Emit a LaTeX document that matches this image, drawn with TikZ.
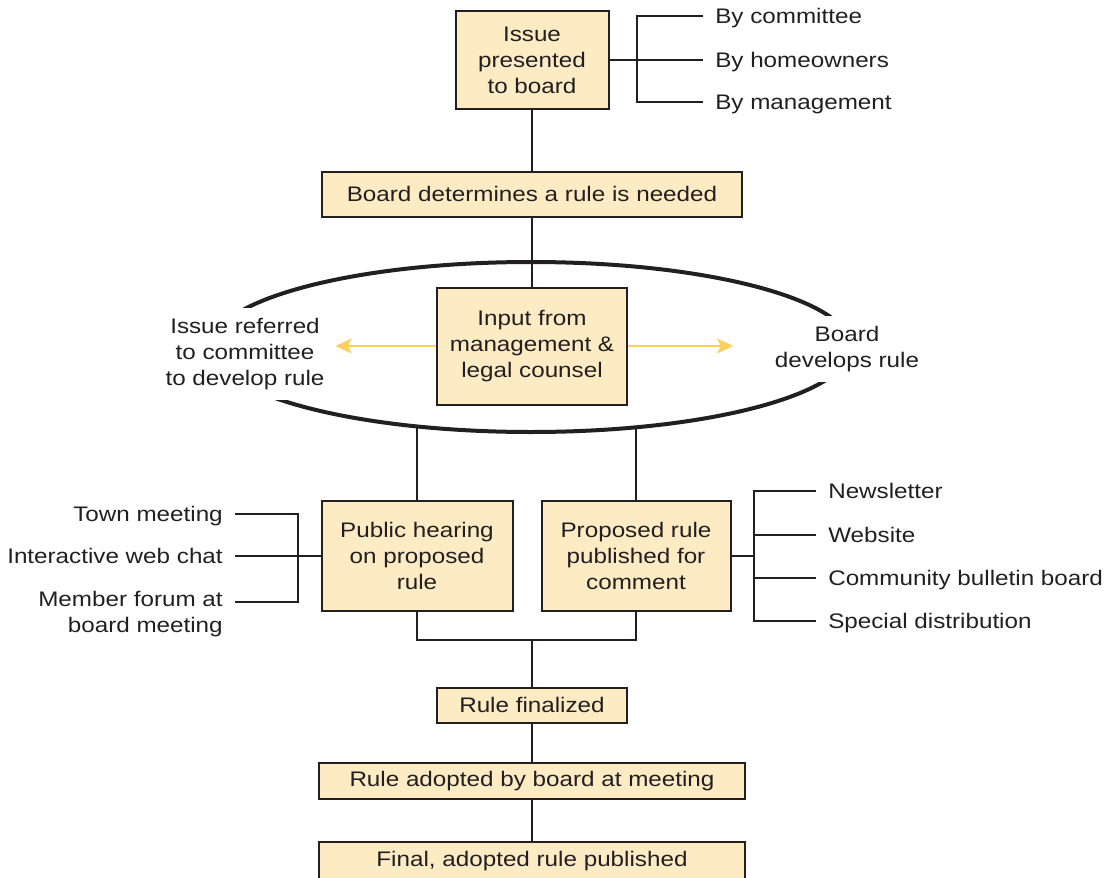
\documentclass[tikz,border=0pt]{standalone}
\usepackage{fontspec}
\setmainfont{Liberation Sans}[FakeStretch=1.15]
\usetikzlibrary{arrows.meta}
\definecolor{boxfill}{HTML}{FDEBC4}
\definecolor{ink}{HTML}{231F20}
\definecolor{gold}{HTML}{FCD05C}
\begin{document}
\begin{tikzpicture}[x=0.75pt, y=-0.75pt, every node/.style = {font=\fontsize{15.8}{19.5}\selectfont, text=ink, align=center}]
			\tikzstyle{box}=[draw=ink, line width=1.5pt, fill=boxfill, inner sep=0pt]
			\tikzstyle{lbl}=[inner xsep=9pt, inner ysep=0pt, text height=11.3pt, text depth=0pt]
			\tikzstyle{note}=[inner sep=8pt, fill=white]
			\tikzstyle{link}=[draw=ink, line width=1.4pt]
			\tikzstyle{pointer}=[draw=gold, line width=1.9pt, -{Stealth[length=12pt, width=11pt, inset=2.5pt]}]
			\useasboundingbox (0,0) rectangle (1118,878);
			\clip (0,0) rectangle (1118,878);
			\draw[ink, line width=3pt] (531,347) ellipse [x radius=240pt, y radius=63.75pt];
			\node[box, minimum width=114.75pt, minimum height=73.5pt] (issue) at (532,60) {Issue\\presented\\to board};
			\node[box, minimum width=315pt, minimum height=33.75pt] (need) at (532,194) {Board determines a rule is needed};
			\node[box, minimum width=142.5pt, minimum height=87.75pt] (input) at (532,346) {Input from\\management \&\\legal counsel};
			\node[box, minimum width=143.25pt, minimum height=82.5pt] (hearing) at (417,556) {Public hearing\\on proposed\\rule};
			\node[box, minimum width=141.75pt, minimum height=82.5pt] (publish) at (636,556) {Proposed rule\\published for\\comment};
			\node[box, minimum width=142.5pt, minimum height=26.25pt] (final) at (532,705) {Rule finalized};
			\node[box, minimum width=319.5pt, minimum height=27pt] (adopt) at (532,781) {Rule adopted by board at meeting};
			\node[box, minimum width=319.5pt, minimum height=28.5pt] (publ) at (532,861) {Final, adopted rule published};
			\node[lbl, anchor=west] (bycomm) at (703,16) {By committee};
			\node[lbl, anchor=west] (byhome) at (703,60) {By homeowners};
			\node[lbl, anchor=west] (bymgmt) at (703,102) {By management};
			\node[note] (referred) at (245,354) {Issue referred\\to committee\\to develop rule};
			\node[note] (develops) at (847,349) {Board\\develops rule};
			\node[lbl, anchor=east] (town) at (235,514) {Town meeting};
			\node[lbl, anchor=east] (webchat) at (235,556) {Interactive web chat};
			\node[anchor=east, inner xsep=9pt, inner ysep=0pt, align=right] (member) at (235,614) {Member forum at\\board meeting};
			\node[lbl, anchor=west] (news) at (816,491) {Newsletter};
			\node[lbl, anchor=west] (website) at (816,535) {Website};
			\node[lbl, anchor=west] (bulletin) at (816,578) {Community bulletin board};
			\node[lbl, anchor=west] (special) at (816,621) {Special distribution};
			\coordinate (tj) at (637,60);
			\coordinate (hj) at (298,556);
			\coordinate (pj) at (754,556);
			\coordinate (e4) at (417,426);
			\coordinate (e5) at (636,427);
			\coordinate (merge) at (532,640);
			\draw[pointer] (input.west) -- (input.west -| referred.east);
			\draw[pointer, shorten >=23pt] (input.east) -- (input.east -| develops.west);
			\draw[link] (issue) -- (byhome.west);
			\draw[link] (bycomm.west) -| (tj) |- (bymgmt.west);
			\draw[link] (issue) -- (need);
			\draw[link] (need) -- (input);
			\draw[link] (e4) -- (hearing);
			\draw[link] (e5) -- (publish);
			\draw[link] (town.east) -| (hj) |- ([yshift=9pt]member.east);
			\draw[link] (webchat) -- (hearing);
			\draw[link] (publish) -- (pj);
			\draw[link] (news.west) -| (pj) |- (special.west);
			\draw[link] (website.west) -- (website.west -| pj);
			\draw[link] (bulletin.west) -- (bulletin.west -| pj);
			\draw[link] (hearing) |- (merge) -| (publish);
			\draw[link] (merge) -- (final);
			\draw[link] (final) -- (adopt);
			\draw[link] (adopt) -- (publ);
		\end{tikzpicture}
\end{document}
